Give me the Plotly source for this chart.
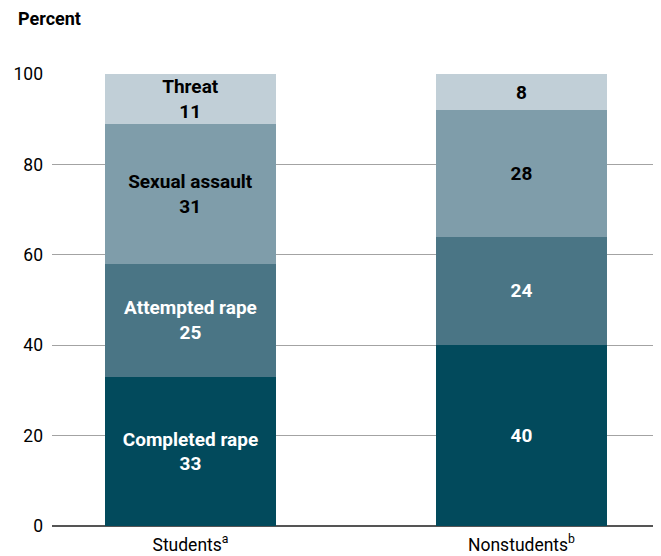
import plotly.graph_objects as go

categories = ["Students<sup>a</sup>", "Nonstudents<sup>b</sup>"]
series_names = ["Completed rape", "Attempted rape", "Sexual assault", "Threat"]
completed = [33, 40]
attempted = [25, 24]
sexual = [31, 28]
threat = [11, 8]
values = [completed, attempted, sexual, threat]
colors = ["#024a5c", "#4a7585", "#7f9daa", "#c1cfd7"]
text_colors = ["white", "white", "black", "black"]

FONT = "Roboto, sans-serif"

fig = go.Figure()
xs = [0, 1]
for name, vals, col, tc in zip(series_names, values, colors, text_colors):
    texts = []
    for i, v in enumerate(vals):
        if i == 0:
            texts.append(f"<b>{name}<br>{v}</b>")
        else:
            texts.append(f"<b>{v}</b>")
    fig.add_trace(go.Bar(
        x=xs, y=vals, name=name, marker=dict(color=col, line=dict(width=0)),
        width=0.517, text=texts, textposition="inside", insidetextanchor="middle",
        textangle=0, constraintext="none",
        textfont=dict(color=tc, size=19, family=FONT),
    ))

W, H = 653, 548
L, R, T, B = 44, 0, 66, 30
PW, PH = W - L - R, H - T - B

fig.update_layout(
    barmode="stack",
    width=W, height=H,
    margin=dict(l=L, r=R, t=T, b=B, autoexpand=False),
    paper_bgcolor="white", plot_bgcolor="white",
    showlegend=False,
    font=dict(family=FONT, size=17.5, color="black"),
    uniformtext=dict(minsize=19, mode="show"),
    xaxis=dict(
        tickmode="array", tickvals=xs, ticktext=categories,
        range=[-0.4184, 1.4215], showgrid=False, zeroline=False,
        showline=False, ticks="", tickfont=dict(size=17.5),
        ticklabelstandoff=6,
    ),
    yaxis=dict(
        range=[0, 100], tickvals=[0, 20, 40, 60, 80, 100],
        showgrid=True, gridcolor="#a3a3a3", gridwidth=1,
        zeroline=True, zerolinecolor="#555555", zerolinewidth=2,
        showline=False, ticks="", ticklabelstandoff=8,
        tickfont=dict(size=17.5),
    ),
    annotations=[dict(
        text="<b>Percent</b>", xref="paper", yref="paper",
        x=(8 - L) / PW, y=1 + (T - 10) / PH, xanchor="left", yanchor="middle",
        showarrow=False, font=dict(size=18, family=FONT),
    )],
)

fig.write_html("out.html")
